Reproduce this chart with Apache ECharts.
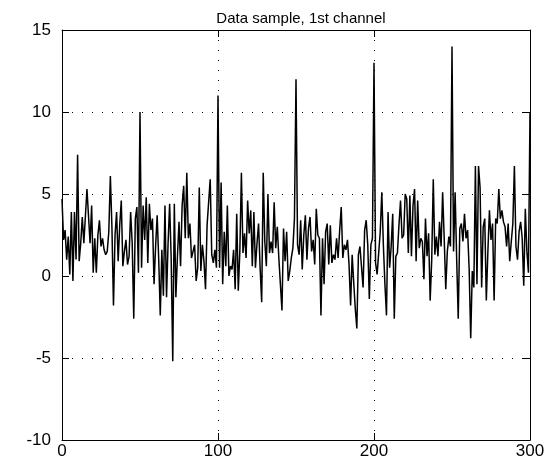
<!DOCTYPE html>
<html>
<head>
<meta charset="utf-8">
<script src="https://cdn.jsdelivr.net/npm/echarts@6/dist/echarts.min.js"></script>
<style>html,body{margin:0;padding:0;background:#fff}#c{width:553px;height:460px}</style>
</head>
<body>
<div id="c"></div>
<script>
var titleText = "Data sample, 1st channel";
var xTicks = [0, 100, 200, 300];
var yTicks = [-10, -5, 0, 5, 10, 15];
var values0 = [4.7,2.2,2.8,1.0,2.4,0.1,3.9,-0.3,3.9,1.0,7.4,0.9,2.0,3.6,2.0,1.9,5.3,5.3,2.0,4.3,0.2,2.3,0.2,2.5,3.4];
var values1 = [1.8,2.3,1.6,1.3,1.5,2.7,6.1,3.0,-1.8,2.5,3.9,0.9,3.1,4.6,0.6,1.5,2.2,0.7,1.2,3.9,2.0,-2.6,3.5,4.2,0.2,10.0];
var values2 = [0.5,4.3,2.2,4.8,0.8,4.4,2.8,3.5,-0.5,1.8,3.7,1.0,-2.4,1.6,-1.2,4.3,-1.3,2.0,4.4,1.0,-5.2,4.4,-1.3,1.2,3.3];
var values3 = [0.6,4.3,5.5,2.3,6.3,2.3,3.2,1.1,1.5,1.9,-0.3,0.5,5.4,0.3,1.9,0.9,-0.8,3.1,4.5,5.9,1.3,0.8,1.6,0.5,11.0];
var values4 = [0.5,5.7,-0.5,2.7,0.6,4.3,0.0,0.6,0.4,1.6,-0.8,3.8,-0.9,1.5,6.3,1.4,2.6,1.1,4.6,2.6,4.0,0.6,3.9,0.5,2.0];
var values5 = [3.2,0.5,-1.6,6.3,2.1,0.6,5.0,1.4,2.1,1.4,4.5,1.7,3.0,1.1,-0.5,-2.1,2.9,0.9,2.7,-0.3,0.3,1.1,1.7,3.5,12.0];
var values6 = [1.9,1.3,3.4,0.4,2.5,3.7,1.0,2.9,3.6,1.5,2.2,0.7,4.1,2.5,2.3,-2.4,2.3,-0.5,2.7,3.2,0.7,3.1,0.8,1.3,1.0];
var values7 = [2.3,1.1,2.8,4.2,1.1,1.9,1.6,2.2,0.7,-1.8,1.3,-0.4,-2.0,-3.2,1.3,1.8,1.9,-0.7,2.8,3.4,1.9,-1.4,1.9,2.3,13.0];
var values8 = [0.8,0.1,0.0,2.7,5.1,1.9,-0.5,-2.4,3.9,0.5,1.8,3.8,-2.6,1.2,1.4,3.1,4.6,2.3,2.5,5.0,4.7,1.4,4.9,1.2,4.3];
var values9 = [5.3,0.9,4.6,1.7,2.3,2.1,-0.2,3.5,1.2,2.6,-1.5,1.0,5.9,1.3,2.4,1.2,3.3,1.8,5.1,2.3,-0.8,1.5,2.4,1.8,14.0];
var values10 = [1.5,5.1,1.0,-2.6,2.9,3.2,2.1,3.8,2.3,2.8,0.4,-3.8,0.3,-0.7,6.7,-0.5,6.7,5.4,-0.7,3.0,3.5,-1.5,1.5,4.0,2.2];
var values11 = [3.2,-1.5,3.5,3.2,5.3,3.5,4.0,3.3,3.0,1.8,3.2,0.9,2.1,3.2,6.7,1.8,1.0,2.7,3.3,2.3,-0.6,4.1,1.5,0.2,10.0];

var values = [].concat(values0, values1, values2, values3, values4, values5, values6, values7, values8, values9, values10, values11);
var data = values.map(function (v, i) { return [i, v]; });

var font = "'Liberation Sans', Arial, Helvetica, sans-serif";
var chart = echarts.init(document.getElementById('c'), null, {renderer: 'canvas'});
var gridDots = {show: true, lineStyle: {color: '#000', width: 1, type: [1, 9]}};
chart.setOption({
  animation: false,
  backgroundColor: '#fff',
  title: {text: titleText, left: 296, top: 6, textAlign: 'center',
    textStyle: {fontFamily: font, fontSize: 15, fontWeight: 'normal', color: '#000'}},
  grid: {left: 62, right: 23, top: 30, bottom: 20, containLabel: false},
  xAxis: [{
    type: 'value', min: xTicks[0], max: xTicks[xTicks.length - 1], interval: 100, position: 'bottom',
    axisLine: {show: true, onZero: false, lineStyle: {color: '#000', width: 1}},
    axisTick: {show: true, inside: true, length: 7, lineStyle: {color: '#000'}},
    axisLabel: {fontFamily: font, fontSize: 17, color: '#000', margin: 3},
    splitLine: gridDots
  }, {
    type: 'value', min: xTicks[0], max: xTicks[xTicks.length - 1], interval: 100, position: 'top',
    axisLine: {show: true, onZero: false, lineStyle: {color: '#000', width: 1}},
    axisTick: {show: true, inside: true, length: 7, lineStyle: {color: '#000'}},
    axisLabel: {show: false}, splitLine: {show: false}
  }],
  yAxis: [{
    type: 'value', min: yTicks[0], max: yTicks[yTicks.length - 1], interval: 5, position: 'left',
    axisLine: {show: true, onZero: false, lineStyle: {color: '#000', width: 1}},
    axisTick: {show: true, inside: true, length: 7, lineStyle: {color: '#000'}},
    axisLabel: {fontFamily: font, fontSize: 17, color: '#000', margin: 11},
    splitLine: gridDots
  }, {
    type: 'value', min: yTicks[0], max: yTicks[yTicks.length - 1], interval: 5, position: 'right',
    axisLine: {show: true, onZero: false, lineStyle: {color: '#000', width: 1}},
    axisTick: {show: true, inside: true, length: 7, lineStyle: {color: '#000'}},
    axisLabel: {show: false}, splitLine: {show: false}
  }],
  series: [{
    type: 'line', data: data, xAxisIndex: 0, yAxisIndex: 0,
    showSymbol: false, symbol: 'none',
    lineStyle: {color: '#000', width: 1.5},
    clip: true
  }]
});
</script>
</body>
</html>
